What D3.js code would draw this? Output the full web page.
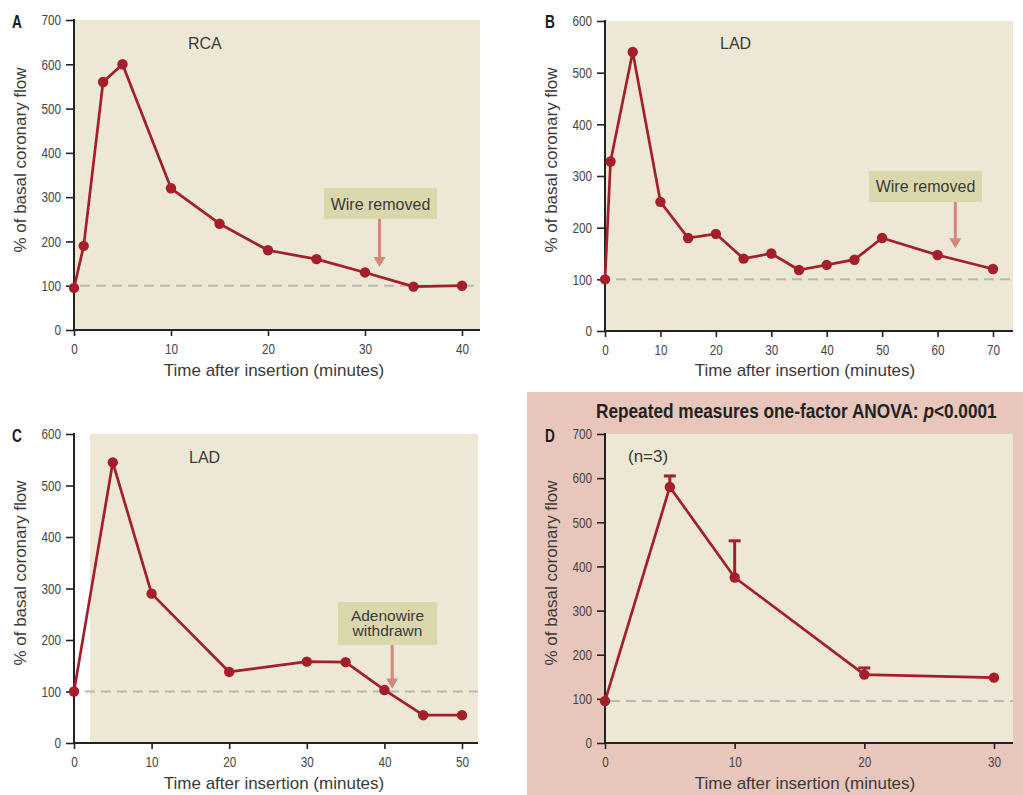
<!DOCTYPE html>
<html>
<head>
<meta charset="utf-8">
<script src="https://cdn.jsdelivr.net/npm/d3@7"></script>
<style>
  html, body { margin: 0; padding: 0; background: #ffffff; }
  svg { display: block; }
  .tick line { stroke: #222; stroke-width: 1.6; }
</style>
</head>
<body>
<svg id="chart" width="1023" height="795"></svg>
<script>
// ---------- Data ----------
const timesA = [0, 1, 3, 5, 10, 15, 20, 25, 30, 35, 40];
const flowA  = [95, 190, 560, 600, 320, 240, 180, 160, 130, 98, 100];

const timesB = [0, 1, 5, 10, 15, 20, 25, 30, 35, 40, 45, 50, 60, 70];
const flowB  = [100, 328, 540, 250, 180, 188, 140, 150, 118, 128, 138, 180, 147, 120];

const timesC = [0, 5, 10, 20, 30, 35, 40, 45, 50];
const flowC  = [100, 545, 290, 138, 158, 157, 103, 54, 54];

const timesD = [0, 5, 10, 20, 30];
const flowD  = [95, 580, 375, 155, 148];
const errUpperD = [null, 605, 458, 170, null];

const yTicksA = [0, 100, 200, 300, 400, 500, 600, 700];
const yTicksB = [0, 100, 200, 300, 400, 500, 600];
const xTicksA = [0, 10, 20, 30, 40];
const xTicksB = [0, 10, 20, 30, 40, 50, 60, 70];
const xTicksC = [0, 10, 20, 30, 40, 50];
const xTicksD = [0, 10, 20, 30];

const yTitle = "% of basal coronary flow";
const xTitle = "Time after insertion (minutes)";
const titleParts = ["Repeated measures one-factor ANOVA: ", "p", "<0.0001"];

// ---------- Styles ----------
const RED = "#a61e29";
const BG = "#ece8d5";
const BOX = "#dbd7ad";
const ARROW = "#d4887a";
const TEXT = "#3a3a3a";
const SANS = '"Liberation Sans", Arial, sans-serif';

const svg = d3.select("#chart");

// condense text horizontally (the original uses a condensed face)
function condense(sel, factor) {
  sel.each(function () {
    const w = this.getComputedTextLength();
    d3.select(this).attr("textLength", w * factor).attr("lengthAdjust", "spacingAndGlyphs");
  });
}

// Panel D pink backdrop
svg.append("rect").attr("x", 527).attr("y", 392).attr("width", 496).attr("height", 403).attr("fill", "#e8c6bb");

function styleTicks(axisG) {
  axisG.attr("font-size", null).attr("font-family", null);
  const t = axisG.selectAll(".tick text")
    .attr("font-family", SANS).attr("font-size", 15).attr("fill", "#444");
  condense(t, 0.78);
}

function panel(cfg) {
  const g = svg.append("g");
  const x = d3.scaleLinear().domain(cfg.xDomain).range([cfg.axisX, cfg.xEnd]);
  const y = d3.scaleLinear().domain(cfg.yDomain).range([cfg.bottom, cfg.top]);

  // background
  g.append("rect").attr("x", cfg.bgLeft).attr("y", cfg.top)
    .attr("width", cfg.right - cfg.bgLeft).attr("height", cfg.bottom - cfg.top).attr("fill", BG);

  // baseline dashed
  g.append("line").attr("x1", cfg.dashStart).attr("x2", cfg.right)
    .attr("y1", y(cfg.baseline)).attr("y2", y(cfg.baseline))
    .attr("stroke", "#b9b8b2").attr("stroke-width", 2).attr("stroke-dasharray", "10,6");

  // axes
  const ya = g.append("g").attr("transform", `translate(${cfg.axisX},0)`)
    .call(d3.axisLeft(y).tickValues(cfg.yTicks).tickSize(8).tickPadding(5).tickSizeOuter(0));
  ya.select(".domain").remove();
  styleTicks(ya);
  const xa = g.append("g").attr("transform", `translate(0,${cfg.bottom})`)
    .call(d3.axisBottom(x).tickValues(cfg.xTicks).tickSize(6).tickPadding(7).tickSizeOuter(0));
  xa.select(".domain").remove();
  styleTicks(xa);
  g.append("line").attr("x1", cfg.axisX).attr("x2", cfg.axisX).attr("y1", cfg.top - 1).attr("y2", cfg.bottom + 1)
    .attr("stroke", "#222").attr("stroke-width", 2);
  g.append("line").attr("x1", cfg.axisX - 1).attr("x2", cfg.right).attr("y1", cfg.bottom).attr("y2", cfg.bottom)
    .attr("stroke", "#222").attr("stroke-width", 2);

  // titles
  g.append("text").attr("transform", `translate(${cfg.yTitleX},${cfg.yTitleY}) rotate(-90)`)
    .attr("text-anchor", "middle").attr("dominant-baseline", "central")
    .attr("font-family", SANS).attr("font-size", 17).attr("fill", TEXT).text(yTitle);
  g.append("text").attr("x", cfg.xTitleX).attr("y", cfg.xTitleY)
    .attr("text-anchor", "middle").attr("font-family", SANS).attr("font-size", 17).attr("fill", TEXT).text(xTitle);

  // letter
  const lt = g.append("text").attr("x", cfg.letterX).attr("y", cfg.letterY)
    .attr("font-family", SANS).attr("font-weight", "bold").attr("font-size", 19).attr("fill", "#1a1a1a").text(cfg.letter);
  condense(lt, 0.72);

  // label
  if (cfg.label) {
    g.append("text").attr("x", cfg.label.x).attr("y", cfg.label.y)
      .attr("font-family", SANS).attr("font-size", cfg.label.size || 16).attr("fill", TEXT).text(cfg.label.text);
  }

  // annotation
  if (cfg.note) {
    const n = cfg.note;
    g.append("rect").attr("x", n.bx).attr("y", n.by).attr("width", n.bw).attr("height", n.bh).attr("fill", BOX);
    n.lines.forEach((t, i) => {
      g.append("text").attr("x", n.bx + n.bw / 2).attr("y", n.ty + i * n.lh)
        .attr("text-anchor", "middle").attr("font-family", SANS).attr("font-size", n.size || 16).attr("fill", TEXT).text(t);
    });
    const ax = x(n.t), ay = y(n.v);
    g.append("line").attr("x1", ax).attr("x2", ax).attr("y1", n.by + n.bh).attr("y2", ay - 8)
      .attr("stroke", ARROW).attr("stroke-width", 3);
    g.append("path").attr("d", `M${ax - 6},${ay - 10} L${ax + 6},${ay - 10} L${ax},${ay} Z`).attr("fill", ARROW);
  }

  const pts = cfg.times.map((t, i) => ({ t, v: cfg.values[i], e: cfg.err ? cfg.err[i] : null }));

  // error bars
  if (cfg.err) {
    const eb = pts.filter(d => d.e != null);
    g.selectAll(".eb").data(eb).join("line").attr("class", "eb")
      .attr("x1", d => x(d.t)).attr("x2", d => x(d.t)).attr("y1", d => y(d.v)).attr("y2", d => y(d.e))
      .attr("stroke", RED).attr("stroke-width", 3);
    g.selectAll(".cap").data(eb).join("line").attr("class", "cap")
      .attr("x1", d => x(d.t) - 6).attr("x2", d => x(d.t) + 6).attr("y1", d => y(d.e)).attr("y2", d => y(d.e))
      .attr("stroke", RED).attr("stroke-width", 3);
  }

  // line
  g.append("path").datum(pts)
    .attr("d", d3.line().x(d => x(d.t)).y(d => y(d.v)))
    .attr("fill", "none").attr("stroke", RED).attr("stroke-width", 2.7).attr("stroke-linejoin", "round");

  g.selectAll(".pt").data(pts).join("circle").attr("class", "pt")
    .attr("cx", d => x(d.t)).attr("cy", d => y(d.v)).attr("r", 5.2).attr("fill", RED);
}

panel({
  letter: "A", letterX: 12, letterY: 28,
  times: timesA, values: flowA,
  xDomain: [0, 40], yDomain: [0, 700], xTicks: xTicksA, yTicks: yTicksA,
  axisX: 74, xEnd: 462, bgLeft: 74, right: 480, top: 20, bottom: 330,
  baseline: 100, dashStart: 80,
  yTitleX: 20, yTitleY: 160, xTitleX: 274, xTitleY: 376,
  label: { text: "RCA", x: 188, y: 49 },
  note: { lines: ["Wire removed"], bx: 324, by: 188, bw: 113, bh: 31, ty: 210, lh: 15, t: 31.5, v: 142 }
});

panel({
  letter: "B", letterX: 545, letterY: 28,
  times: timesB, values: flowB,
  xDomain: [0, 70], yDomain: [0, 600], xTicks: xTicksB, yTicks: yTicksB,
  axisX: 605, xEnd: 993, bgLeft: 605, right: 1013, top: 21, bottom: 331,
  baseline: 100, dashStart: 616,
  yTitleX: 551, yTitleY: 160, xTitleX: 805, xTitleY: 376,
  label: { text: "LAD", x: 720, y: 49 },
  note: { lines: ["Wire removed"], bx: 869, by: 171, bw: 113, bh: 31, ty: 192, lh: 15, t: 63.2, v: 160 }
});

panel({
  letter: "C", letterX: 12, letterY: 442,
  times: timesC, values: flowC,
  xDomain: [0, 50], yDomain: [0, 600], xTicks: xTicksC, yTicks: yTicksB,
  axisX: 74, xEnd: 462, bgLeft: 90, right: 478, top: 434, bottom: 743,
  baseline: 100, dashStart: 85,
  yTitleX: 20, yTitleY: 573, xTitleX: 274, xTitleY: 789,
  label: { text: "LAD", x: 189, y: 463 },
  note: { lines: ["Adenowire", "withdrawn"], bx: 338, by: 602, bw: 99, bh: 43, ty: 621, lh: 15, size: 15.5, t: 41, v: 106 }
});

panel({
  letter: "D", letterX: 545, letterY: 442,
  times: timesD, values: flowD, err: errUpperD,
  xDomain: [0, 30], yDomain: [0, 700], xTicks: xTicksD, yTicks: yTicksA,
  axisX: 605, xEnd: 994, bgLeft: 605, right: 1013, top: 434, bottom: 743,
  baseline: 95, dashStart: 610,
  yTitleX: 551, yTitleY: 573, xTitleX: 805, xTitleY: 789,
  label: { text: "(n=3)", x: 628, y: 462, size: 17 }
});

// Panel D title: one text with tspans, horizontally scaled to the 401 px the original spans
const titleG = svg.append("g");
const tt = titleG.append("text").attr("x", 0).attr("y", 0)
  .attr("font-family", SANS).attr("font-weight", "bold").attr("font-size", 20).attr("fill", "#222");
titleParts.forEach((s, i) => {
  tt.append("tspan").attr("font-style", i === 1 ? "italic" : "normal").text(s);
});
const tw = tt.node().getComputedTextLength();
titleG.attr("transform", `translate(596,418) scale(${401 / tw},1)`);
</script>
</body>
</html>
